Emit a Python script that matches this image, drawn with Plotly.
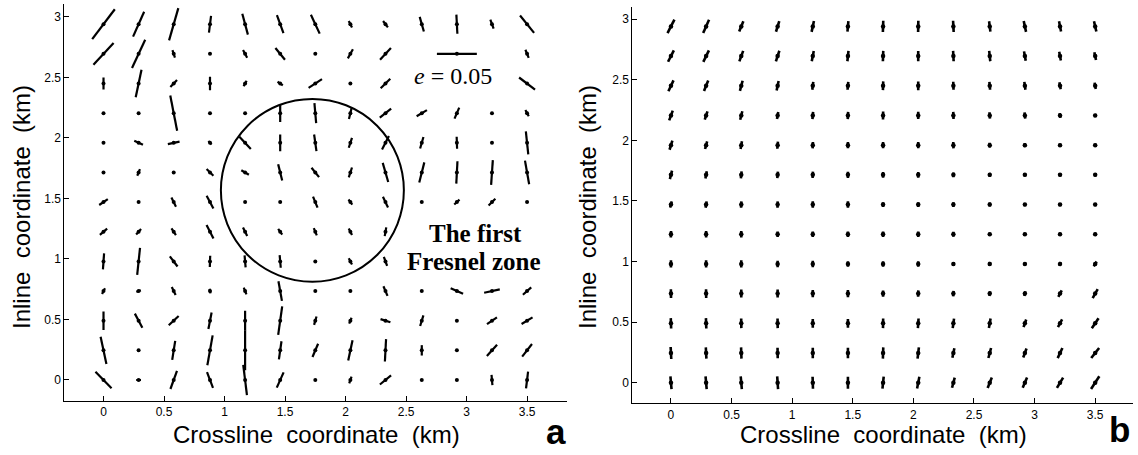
import math
import plotly.graph_objects as go

W, H = 1138, 455

# Survey grid (km)
crossline_km = [0.00, 0.29, 0.58, 0.88, 1.17, 1.46, 1.75, 2.04, 2.33, 2.63, 2.92, 3.21, 3.50]
inline_km = [0.000, 0.245, 0.490, 0.735, 0.980, 1.225, 1.470, 1.715, 1.960, 2.205, 2.450, 2.695, 2.940]

# Panel a: anisotropy magnitude e (x 1e-3) and azimuth (deg, counter-clockwise
# from the crossline axis). Rows run from inline 0 upward; None = not plotted.
ecc_a = [
    [29, 6, 24, 21, 38, 21, 0, 9, 18, 0, 0, 13, 21],
    [35, 3, 24, 38, 50, 23, 18, 26, 28, 13, 0, 19, 20],
    [23, 20, 17, 21, 25, 36, 11, 8, 13, 14, 0, 15, 16],
    [8, 6, 11, 6, 9, 25, 0, 0, 13, 0, 17, 20, 14],
    [20, 34, 16, 14, 15, 16, 0, 9, 12, None, None, None, None],
    [12, 9, 10, 19, 12, 9, 10, 9, 11, None, None, None, None],
    [13, 0, 13, 18, 0, 0, 15, 8, 15, 0, 9, 12, 0],
    [0, 9, 0, 12, 11, 21, 15, 13, 25, 26, 28, 31, 30],
    [0, 12, 15, 6, 21, 21, 21, 13, 19, 15, 15, 0, 29],
    [0, 0, 45, 0, 0, 22, 25, 15, 18, 15, 15, 0, 9],
    [15, 35, 12, 17, 8, 8, 20, 0, 17, None, None, None, 25],
    [37, 39, 10, 0, 11, 19, 0, 13, 20, None, None, None, 11],
    [47, 34, 42, 21, 27, 24, 26, 9, 10, 19, 24, 12, 28],
]
azi_a = [
    [134, 0, 70, 111, 97, 66, 90, 71, 39, 90, 90, 95, 83],
    [102, 90, 81, 80, 90, 82, 67, 78, 87, 90, 90, 48, 52],
    [90, 118, 43, 79, 90, 82, 74, 68, 162, 73, 90, 34, 31],
    [63, 20, 116, 100, 112, 100, 90, 90, 113, 90, 156, 12, 42],
    [86, 84, 127, 88, 95, 95, 90, 117, 110, None, None, None, None],
    [41, 47, 124, 117, 116, 124, 112, 117, 80, None, None, None, None],
    [34, 90, 116, 118, 90, 90, 112, 126, 115, 90, 43, 45, 90],
    [90, 68, 90, 135, 149, 104, 129, 72, 106, 76, 87, 86, 100],
    [90, 155, 12, 132, 133, 90, 98, 72, 63, 74, 92, 90, 96],
    [90, 90, 101, 90, 90, 90, 95, 76, 38, 31, 67, 90, 118],
    [90, 78, 46, 90, 62, 146, 33, 90, 45, None, None, None, 143],
    [47, 65, 108, 90, 118, 129, 90, 61, 47, None, None, None, 112],
    [53, 66, 74, 83, 105, 110, 115, 117, 127, 106, 93, 110, 129],
]

# Panel b: same quantities for the smoothed field
ecc_b = [
    [16, 16, 16, 16, 15, 15, 15, 15, 13, 14, 14, 15, 19],
    [15, 14, 14, 13, 13, 13, 14, 14, 12, 13, 12, 14, 16],
    [13, 13, 12, 12, 11, 11, 12, 12, 12, 12, 10, 11, 15],
    [11, 11, 10, 10, 9, 9, 8, 8, 7, 6, 6, 9, 13],
    [9, 9, 9, 8, 8, 7, 7, 7, 5, 5, 4, 5, 7],
    [8, 8, 8, 7, 7, 7, 7, 7, 6, 4, 4, 4, 4],
    [8, 8, 8, 8, 8, 8, 6, 6, 6, 5, 4, 4, 4],
    [11, 9, 9, 8, 8, 8, 7, 7, 6, 5, 4, 4, 4],
    [12, 10, 10, 9, 8, 8, 8, 8, 8, 6, 5, 4, 4],
    [13, 11, 11, 9, 9, 9, 10, 9, 9, 8, 8, 6, 4],
    [15, 14, 13, 12, 10, 10, 11, 11, 10, 10, 10, 9, 8],
    [16, 16, 14, 14, 13, 13, 13, 13, 13, 13, 12, 11, 10],
    [19, 18, 14, 14, 14, 13, 14, 14, 14, 13, 14, 13, 13],
]
azi_b = [
    [95, 95, 95, 94, 92, 90, 84, 79, 75, 68, 67, 59, 57],
    [93, 93, 92, 91, 90, 90, 88, 83, 78, 75, 70, 65, 52],
    [92, 92, 91, 91, 90, 90, 89, 86, 82, 80, 71, 62, 56],
    [91, 91, 90, 90, 90, 90, 90, 88, 85, 82, 78, 62, 61],
    [90, 90, 90, 90, 90, 90, 90, 90, 88, 85, 75, 65, 59],
    [88, 90, 90, 90, 90, 90, 90, 90, 90, 90, 80, 70, 65],
    [75, 81, 87, 88, 90, 90, 90, 90, 90, 90, 90, 90, 90],
    [76, 79, 84, 84, 87, 90, 90, 90, 90, 92, 92, 92, 92],
    [73, 75, 80, 85, 87, 90, 90, 90, 92, 93, 95, 95, 95],
    [70, 72, 76, 80, 85, 87, 89, 90, 92, 94, 96, 98, 98],
    [65, 68, 75, 78, 83, 85, 88, 90, 92, 95, 98, 100, 100],
    [63, 64, 70, 72, 79, 84, 88, 90, 93, 96, 100, 101, 102],
    [63, 66, 68, 73, 78, 85, 88, 89, 93, 97, 102, 101, 103],
]

# Reference symbol
ref_e = 0.05
ref_pos = (10, 11)  # (crossline index, inline index)

# Fresnel zone circle (km)
fresnel_center = (1.726, 1.567)
fresnel_radius = 0.756

KM_PER_E = 6.6  # symbol length in km for unit anisotropy

FONT_SANS = "Liberation Sans, Arial, sans-serif"
FONT_SERIF = "Liberation Serif, Times New Roman, serif"


def bars(ecc, azi, skip=()):
    xs, ys, cx, cy = [], [], [], []
    for j, yv in enumerate(inline_km):
        for i, xv in enumerate(crossline_km):
            e = ecc[j][i]
            if e is None or (i, j) in skip:
                continue
            half = e * 1e-3 * KM_PER_E / 2
            t = math.radians(azi[j][i])
            dx, dy = half * math.cos(t), half * math.sin(t)
            xs += [xv - dx, xv + dx, None]
            ys += [yv - dy, yv + dy, None]
            cx.append(xv)
            cy.append(yv)
    return xs, ys, cx, cy


fig = go.Figure()

# ---- panel a
xs, ys, cx, cy = bars(ecc_a, azi_a)
fig.add_trace(go.Scatter(x=xs, y=ys, mode="lines", line=dict(color="black", width=2.2),
                         xaxis="x", yaxis="y", hoverinfo="skip"))
rx, ry = crossline_km[ref_pos[0]], inline_km[ref_pos[1]]
rh = ref_e * KM_PER_E / 2
fig.add_trace(go.Scatter(x=[rx - rh, rx + rh], y=[ry, ry], mode="lines",
                         line=dict(color="black", width=2.2), xaxis="x", yaxis="y", hoverinfo="skip"))
fig.add_trace(go.Scatter(x=cx + [rx], y=cy + [ry], mode="markers",
                         marker=dict(color="black", size=4), xaxis="x", yaxis="y", hoverinfo="skip"))

# ---- panel b
xs, ys, cx, cy = bars(ecc_b, azi_b)
fig.add_trace(go.Scatter(x=xs, y=ys, mode="lines", line=dict(color="black", width=2.6),
                         xaxis="x2", yaxis="y2", hoverinfo="skip"))
fig.add_trace(go.Scatter(x=cx, y=cy, mode="markers", marker=dict(color="black", size=4.5),
                         xaxis="x2", yaxis="y2", hoverinfo="skip"))

fig.add_shape(type="circle", xref="x", yref="y",
              x0=fresnel_center[0] - fresnel_radius, x1=fresnel_center[0] + fresnel_radius,
              y0=fresnel_center[1] - fresnel_radius, y1=fresnel_center[1] + fresnel_radius,
              line=dict(color="black", width=2))


def px(x):
    return x / W


def py(y):
    return 1 - y / H


axis_common = dict(showgrid=False, zeroline=False, showline=True, linecolor="black", linewidth=1,
                   ticks="inside", ticklen=5, tickcolor="black", tickwidth=1,
                   tickfont=dict(family=FONT_SANS, size=12, color="black"), dtick=0.5, tick0=0,
                   mirror=False, fixedrange=True)

fig.update_layout(
    width=W, height=H, margin=dict(l=0, r=0, t=0, b=0),
    paper_bgcolor="white", plot_bgcolor="white", showlegend=False,
    xaxis=dict(domain=[px(64.3), px(567)], range=[-0.324, 3.83], anchor="y", **axis_common),
    yaxis=dict(domain=[py(401), py(4)], range=[-0.1736, 3.107], anchor="x", **axis_common),
    xaxis2=dict(domain=[px(632.3), px(1133)], range=[-0.319, 3.812], anchor="y2", **axis_common),
    yaxis2=dict(domain=[py(403.3), py(7)], range=[-0.170, 3.10], anchor="x2", **axis_common),
)

title_font = dict(family=FONT_SANS, size=24, color="black")
sp = "\u00a0\u00a0"
ann = [
    dict(x=px(316.7), y=py(434), text=f"Crossline{sp}coordinate{sp}(km)", font=title_font),
    dict(x=px(883), y=py(434), text=f"Crossline{sp}coordinate{sp}(km)", font=title_font),
    dict(x=px(22), y=py(207), text=f"Inline{sp}coordinate{sp}(km)", font=title_font, textangle=-90),
    dict(x=px(588), y=py(207), text=f"Inline{sp}coordinate{sp}(km)", font=title_font, textangle=-90),
    dict(x=px(556), y=py(431), text="<b>a</b>", font=dict(family=FONT_SANS, size=35, color="black")),
    dict(x=px(1119.5), y=py(429), text="<b>b</b>", font=dict(family=FONT_SANS, size=35, color="black")),
    dict(x=px(453), y=py(76), text="<i>e</i> = 0.05", font=dict(family=FONT_SERIF, size=24, color="black")),
    dict(x=px(475), y=py(234), text="<b>The first</b>", font=dict(family=FONT_SERIF, size=25, color="black")),
    dict(x=px(474), y=py(261), text="<b>Fresnel zone</b>", font=dict(family=FONT_SERIF, size=25, color="black")),
]
for a in ann:
    a.update(xref="paper", yref="paper", showarrow=False, xanchor="center", yanchor="middle")
fig.update_layout(annotations=ann)

fig.write_html("out.html")
